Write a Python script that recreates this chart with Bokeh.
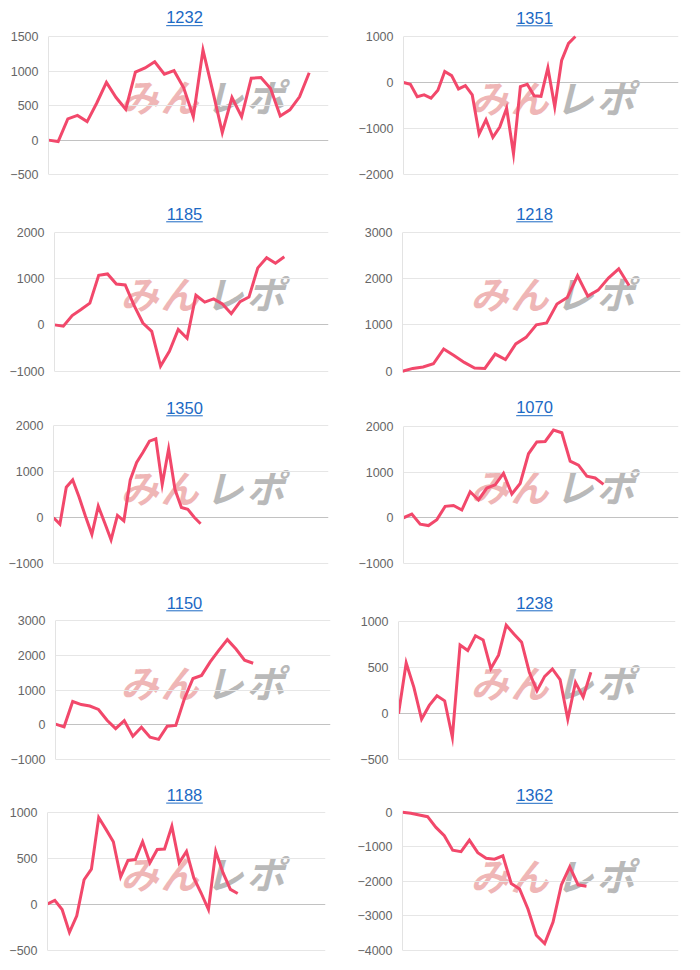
from bokeh.plotting import figure
from bokeh.models import Range1d, FixedTicker, Grid
from bokeh.layouts import column, row
from bokeh.embed import file_html
from bokeh.resources import INLINE
from bokeh.core.properties import value

# ---------------- data ----------------
titles = ["1232", "1351", "1185", "1218", "1350", "1070", "1150", "1238", "1188", "1362"]

s1232 = [0, -20, 310, 360, 270, 540, 840, 620, 450, 990, 1050, 1140, 960, 1010, 760, 340,
         1310, 720, 110, 620, 340, 900, 910, 750, 350, 440, 630, 980]
s1351 = [0, -40, -310, -270, -340, -170, 240, 150, -140, -70, -270, -1120, -810, -1190, -970,
         -560, -1550, -90, -40, -290, -300, 320, -530, 480, 850, 1000]
s1185 = [0, -30, 200, 330, 470, 1070, 1100, 880, 860, 420, 40, -140, -890, -570, -100, -290,
         640, 490, 560, 450, 240, 500, 600, 1230, 1450, 1330, 1470]
s1218 = [0, 60, 90, 160, 480, 340, 190, 70, 60, 370, 250, 590, 730, 1000, 1040, 1450, 1590,
         2060, 1620, 1750, 2010, 2210, 1850]
s1350 = [0, -140, 660, 820, 450, 30, -360, 250, -110, -480, 50, -70, 820, 1200, 1420, 1660,
         1710, 720, 1490, 610, 220, 180, 10, -130]
s1070 = [0, 80, -140, -170, -40, 250, 270, 170, 570, 390, 650, 720, 970, 520, 750, 1400, 1660,
         1670, 1920, 1860, 1240, 1150, 910, 870, 730]
s1150 = [20, -60, 670, 580, 540, 440, 130, -110, 120, -330, -70, -360, -420, -40, -20, 750,
         1330, 1420, 1810, 2140, 2450, 2180, 1860, 1770]
s1238 = [0, 550, 285, -60, 90, 195, 140, -255, 745, 685, 845, 800, 490, 635, 960, 865, 775,
         450, 250, 405, 485, 370, -60, 340, 180, 450]
s1188 = [5, 45, -55, -305, -125, 270, 385, 950, 820, 685, 300, 480, 490, 685, 455, 600, 605,
         855, 455, 580, 290, 125, -55, 580, 345, 165, 120]
s1362 = [0, -30, -80, -130, -440, -680, -1100, -1140, -810, -1170, -1330, -1360, -1260, -2060,
         -2220, -2800, -3560, -3800, -3180, -2100, -1580, -2100, -2140]
series = [s1232, s1351, s1185, s1218, s1350, s1070, s1150, s1238, s1188, s1362]

# number of (hidden) x-axis category labels per chart
x_label_counts = [30, 41, 32, 28, 44, 34, 33, 37, 39, 34]

y_ticks = [
    [-500, 0, 500, 1000, 1500],
    [-2000, -1000, 0, 1000],
    [-1000, 0, 1000, 2000],
    [0, 1000, 2000, 3000],
    [-1000, 0, 1000, 2000],
    [-1000, 0, 1000, 2000],
    [-1000, 0, 1000, 2000, 3000],
    [-500, 0, 500, 1000],
    [-500, 0, 500, 1000],
    [-4000, -3000, -2000, -1000, 0],
]

# ---------------- layout / style ----------------
COL_LEFT = [0, 350]
COL_W = 350
ROW_TOP = [0, 204, 398, 593, 786]
ROW_H = [204, 194, 195, 193, 184]
TITLE_Y = [17, 213, 407, 602, 794.5]
TITLE_X = [184, 534]
FRAME_X = [(48, 328), (403, 678), (54, 328), (402, 680), (53, 328), (403, 678),
           (55, 330), (398, 675), (47, 325), (402, 678)]
GRID_Y = [(36.7, 175), (36, 174), (231.7, 370.7), (231.7, 370.7), (425, 563.3), (426, 564),
          (620, 759), (621, 759.3), (812.7, 951.7), (811.7, 950)]
WM_DY = 79  # below title centre
WM_CHARS = [("み", 139, "#efb6b6"), ("ん", 179, "#efb6b6"),
            ("レ", 224, "#b9b9b9"), ("ポ", 265, "#b9b9b9")]

LINE = "#f2486b"
BLUE = "#1b69c4"
FONT = "Liberation Sans"

figs = []
for i in range(10):
    r, c = divmod(i, 2)
    cl = COL_LEFT[c]
    top = ROW_TOP[r]
    h = ROW_H[r]
    fl, fr = FRAME_X[i]
    gt, gb = GRID_Y[i]
    ticks = y_ticks[i]
    tmin, tmax = min(ticks), max(ticks)
    n_int = x_label_counts[i] - 1

    frame_bottom = round(gb) + 3
    upp = (tmax - tmin) / (gb - gt)
    y0 = tmin - (frame_bottom - gb) * upp
    y1 = tmax + (gt - top) * upp
    step = (fr - fl) / n_int

    def dx(px):
        return (px - fl) / step

    def dy(py):
        return tmax + (gt - py) * upp

    p = figure(width=COL_W, height=h, x_range=Range1d(0, n_int), y_range=Range1d(y0, y1),
               output_backend="svg", toolbar_location=None, tools="",
               x_axis_location=None,
               min_border_left=fl - cl, min_border_right=cl + COL_W - fr,
               min_border_top=0, min_border_bottom=top + h - frame_bottom)
    p.outline_line_color = None
    p.background_fill_color = "white"
    p.border_fill_color = "white"
    p.xgrid.visible = False

    ax = p.yaxis[0]
    ax.ticker = FixedTicker(ticks=ticks)
    ax.bounds = (tmin, tmax)
    ax.axis_line_color = "#e3e3e3"
    ax.major_tick_line_color = None
    ax.minor_tick_line_color = None
    ax.major_tick_out = 0
    ax.major_tick_in = 0
    ax.major_label_standoff = 10
    ax.major_label_text_font = FONT
    ax.major_label_text_font_size = "12.5px"
    ax.major_label_text_color = "#666666"

    p.ygrid.ticker = FixedTicker(ticks=[t for t in ticks if t != 0])
    p.ygrid.grid_line_color = "#e6e6e6"
    zg = Grid(dimension=1, ticker=FixedTicker(ticks=[0]), grid_line_color="#c2c2c2")
    p.add_layout(zg)

    # watermark
    wy = dy(TITLE_Y[r] + WM_DY)
    for ch, wx, col in WM_CHARS:
        w = p.text(x=[dx(cl + wx)], y=[wy], text=[ch],
                   text_font=value("Noto Sans CJK JP"), text_font_style="bold italic",
                   text_font_size="38px", text_color=col, text_align="center",
                   text_baseline="middle")
        w.level = "image"

    # data line
    p.line(x=list(range(len(series[i]))), y=series[i], line_color=LINE, line_width=3,
           line_join="miter")

    # title (link style)
    tx = TITLE_X[c]
    ty = TITLE_Y[r]
    p.text(x=[dx(tx)], y=[dy(ty)], text=[titles[i]], text_font=value(FONT),
           text_font_size="16.5px", text_color=BLUE, text_align="center",
           text_baseline="middle")
    p.segment(x0=[dx(tx - 18.3)], y0=[dy(ty + 8.3)], x1=[dx(tx + 18.3)], y1=[dy(ty + 8.3)],
              line_color=BLUE, line_width=1)
    figs.append(p)

layout = column(*[row(figs[2 * k], figs[2 * k + 1]) for k in range(5)])
open("out.html", "w").write(file_html(layout, INLINE))
